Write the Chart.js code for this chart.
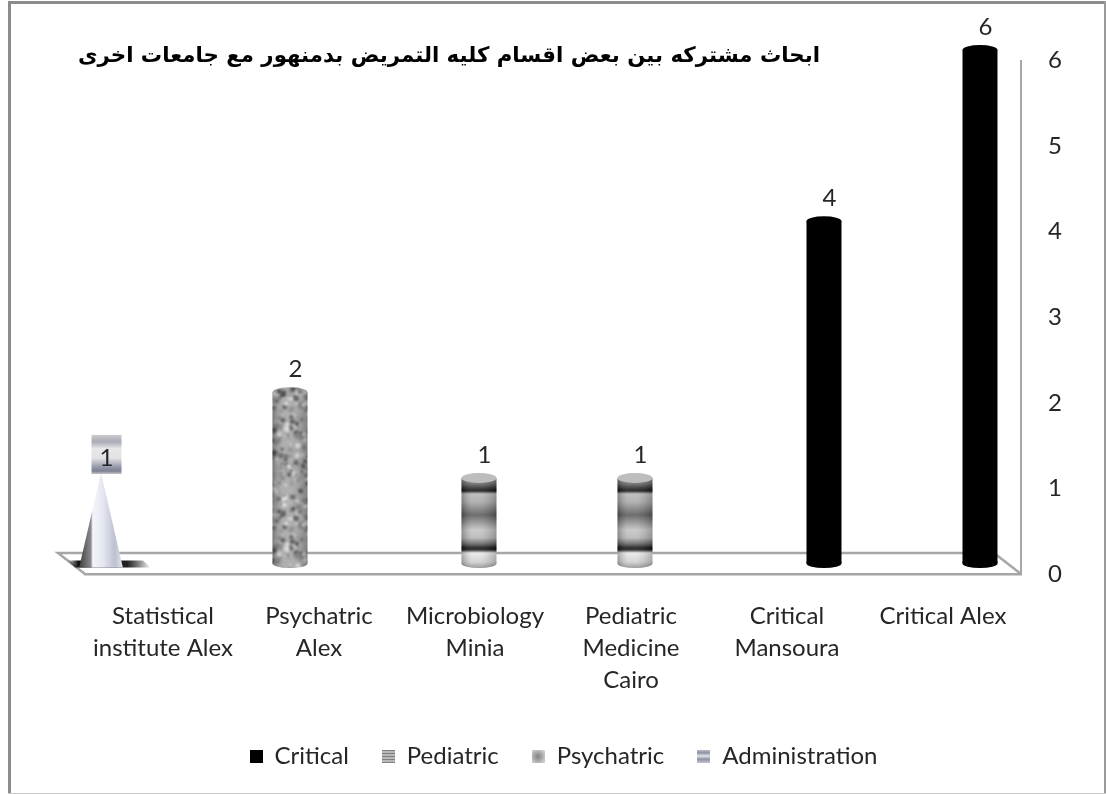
<!DOCTYPE html>
<html lang="en"><head><meta charset="utf-8">
<style>html,body{margin:0;padding:0;background:#fff}#w{width:1106px;height:794px}canvas{display:block}</style>
<script src="https://cdn.jsdelivr.net/npm/chart.js@4/dist/chart.umd.js"></script>
</head><body><div id="w"><canvas id="c" width="1106" height="794"></canvas></div>
<script>
const categories=[["Statistical","institute Alex"],["Psychatric","Alex"],["Microbiology","Minia"],["Pediatric","Medicine","Cairo"],["Critical","Mansoura"],["Critical Alex"]];
const administration=[1,null,null,null,null,null];
const psychatric=[null,2,null,null,null,null];
const pediatric=[null,null,1,1,null,null];
const critical=[null,null,null,null,4,6];
const chartTitle="ابحاث مشتركه بين بعض اقسام كليه التمريض بدمنهور مع جامعات اخرى";
const yTicks=[0,1,2,3,4,5,6];

const FONT='Lato';const DX=-12.5,DY=-10.5,BACKX=-27,BACKY=-21,RY=4.5;

function mk(w,h,f){const c=document.createElement('canvas');c.width=w;c.height=h;f(c.getContext('2d'),w,h);return c;}
// granite texture, deterministic speckle
function granite(){
  let s=12345;const r=()=>{s=(s*1103515245+12345)&0x7fffffff;return s/0x7fffffff;};
  return mk(120,120,(g,w,h)=>{
    g.fillStyle='#a4a4a4';g.fillRect(0,0,w,h);
    g.filter='blur(0.9px)';
    for(let i=0;i<620;i++){const x=r()*w,y=r()*h,t=r();
      g.fillStyle=t<0.3?'#4a4a4a':(t<0.65?'#dcdcdc':'#7c7c7c');
      g.beginPath();g.arc(x,y,0.8+r()*1.9,0,7);g.fill();}
  });
}
const granitePat=granite();

function pedGrad(ctx,top,base){
  const h=base-top,g=ctx.createLinearGradient(0,top,0,base+RY);
  const t=(p)=>Math.min(1,Math.max(0,p));
  const H=h+RY;
  [[0,'#a0a0a0'],[6/H,'#666666'],[11/H,'#202020'],[13/H,'#141414'],[16/H,'#b8b8b8'],[24/H,'#a8a8a8'],[37/H,'#5a5a5a'],[52/H,'#c4c4c4'],[60/H,'#b4b4b4'],[66/H,'#606060'],[70/H,'#111111'],[72/H,'#222222'],[75/H,'#e8e8e8'],[84/H,'#cfcfcf'],[1,'#909090']].forEach(a=>g.addColorStop(t(a[0]),a[1]));
  return g;
}
function pedFill(c){
  const v=c.raw;
  if(v==null)return 'transparent';
  const y=c.chart.scales.y;return pedGrad(c.chart.ctx,y.getPixelForValue(v),y.getPixelForValue(0));
}
function psychFill(c){return c.chart.ctx.createPattern(granitePat,'repeat');}

const swatches={
 Critical:mk(13,13,(g,w,h)=>{g.fillStyle='#000';g.fillRect(0,0,w,h);}),
 Pediatric:mk(13,13,(g,w,h)=>{for(let i=0;i<h;i++){g.fillStyle=i%3==2?'#f0f0f0':'#808080';g.fillRect(0,i,w,1);}}),
 Psychatric:mk(13,13,(g,w,h)=>{const a=g.createRadialGradient(6,7,1,6,7,9);a.addColorStop(0,'#8a8a8a');a.addColorStop(1,'#d8d8d8');g.fillStyle=a;g.fillRect(0,0,w,h);}),
 Administration:mk(13,13,(g,w,h)=>{const a=g.createLinearGradient(0,0,0,h);[[0,'#c4c6cc'],[.25,'#8a8ea0'],[.5,'#e4e4e8'],[.75,'#8a8ea0'],[1,'#c4c6cc']].forEach(b=>a.addColorStop(b[0],b[1]));g.fillStyle=a;g.fillRect(0,0,w,h);})
};

const depthPlugin={
 id:'depth',
 afterLayout(chart){const t=chart.titleBlock;t.left=78;t.right=820;t.top+=9;t.bottom+=9;chart.legend.left=21;},
 beforeDraw(chart){
  const {ctx,chartArea:a}=chart;
  ctx.save();
  ctx.fillStyle='#8c8c8c';ctx.fillRect(8,1,1098,3);ctx.fillRect(8,1,3,792);
  ctx.fillStyle='#9a9a9a';ctx.fillRect(1104,1,2,792);
  ctx.fillStyle='#c8c8c8';ctx.fillRect(8,793,1098,1);
  ctx.strokeStyle='#a6a6a6';ctx.lineWidth=2.5;
  ctx.beginPath();
  ctx.moveTo(a.left,a.bottom);ctx.lineTo(a.left+BACKX,a.bottom+BACKY);ctx.lineTo(a.right+BACKX,a.bottom+BACKY);ctx.lineTo(a.right,a.bottom);
  ctx.stroke();
  ctx.restore();
 },
 beforeDatasetsDraw(chart){chart.ctx.save();chart.ctx.translate(DX,DY);},
 afterDatasetDraw(chart,args){
  const ctx=chart.ctx,meta=args.meta,kind=chart.data.datasets[args.index].kind;
  meta.data.forEach((el,i)=>{
   const v=chart.data.datasets[args.index].data[i];if(v==null)return;
   const x=el.x,top=el.y,base=el.base,w=el.width;
   if(kind==='cone'){
     const bw=w*1.25,l=x-bw/2,r=x+bw/2,by=base+4;
     let s=ctx.createLinearGradient(l-12,0,r+28,0);
     s.addColorStop(0,'rgba(0,0,0,0)');s.addColorStop(.13,'#111');s.addColorStop(.72,'#222');s.addColorStop(1,'rgba(0,0,0,0)');
     ctx.fillStyle=s;ctx.beginPath();ctx.moveTo(l-12,by-7);ctx.lineTo(r+20,by-7);ctx.lineTo(r+28,by);ctx.lineTo(l-4,by);ctx.closePath();ctx.fill();
     const g=ctx.createLinearGradient(l,0,r,0);
     [[0,'#3e3e3e'],[.27,'#8c8c8c'],[.31,'#f4f5fa'],[.55,'#e4e6f0'],[.82,'#bcc0d0'],[1,'#e8e9ee']].forEach(b=>g.addColorStop(b[0],b[1]));
     ctx.fillStyle=g;ctx.beginPath();ctx.moveTo(x,top-5);ctx.lineTo(r,by);ctx.lineTo(l,by);ctx.closePath();ctx.fill();
     return;
   }
   const fill=kind==='ped'?pedGrad(ctx,top,base):(kind==='psych'?ctx.createPattern(granitePat,'repeat'):'#000');
   ctx.fillStyle=fill;
   // bottom of the cylinder, overlapping the bar so no seam shows
   ctx.beginPath();ctx.moveTo(x-w/2,base-2);ctx.lineTo(x+w/2,base-2);ctx.lineTo(x+w/2,base);ctx.ellipse(x,base,w/2,RY,0,0,Math.PI);ctx.closePath();ctx.fill();
   if(kind!=='crit'){
     const sh=ctx.createLinearGradient(x-w/2,0,x+w/2,0);
     sh.addColorStop(0,'rgba(0,0,0,.28)');sh.addColorStop(.3,'rgba(255,255,255,.12)');sh.addColorStop(.55,'rgba(255,255,255,.12)');sh.addColorStop(1,'rgba(0,0,0,.22)');
     ctx.fillStyle=sh;
     ctx.beginPath();ctx.moveTo(x-w/2,top);ctx.lineTo(x+w/2,top);ctx.lineTo(x+w/2,base);ctx.ellipse(x,base,w/2,RY,0,0,Math.PI);ctx.closePath();ctx.fill();
   }
   ctx.fillStyle=kind==='crit'?'#000':(kind==='ped'?'#bdbdbd':ctx.createPattern(granitePat,'repeat'));
   ctx.beginPath();ctx.ellipse(x,top,w/2,RY+.5,0,0,Math.PI*2);ctx.fill();
  });
 },
 afterDatasetsDraw(chart){
  chart.ctx.restore();
  const ctx=chart.ctx;ctx.save();
  chart.data.datasets.forEach((ds,di)=>{
   chart.getDatasetMeta(di).data.forEach((el,i)=>{
    const v=ds.data[i];if(v==null)return;
    const x=el.x+DX+5.5,y=el.y+DY-23;
    if(ds.kind==='cone'){
      const g=ctx.createLinearGradient(0,434,0,473);
      [[0,'#d0d0d0'],[.2,'#a8aab6'],[.38,'#e8e8ea'],[.62,'#e2e2e4'],[.85,'#9498a8'],[.95,'#7c8092'],[1,'#b0b0b8']].forEach(b=>g.addColorStop(b[0],b[1]));
      ctx.fillStyle=g;ctx.fillRect(x-15,y-20,30,39);
    }
    ctx.fillStyle='#262626';ctx.font='24px '+FONT;ctx.textAlign='center';ctx.textBaseline='middle';
    ctx.fillText(String(v),x,ds.kind==='cone'?y+3:y);
   });
  });
  ctx.restore();
 }
};

const ds=(label,data,kind,bg)=>({label,data,kind,backgroundColor:bg,borderWidth:0,barPercentage:1.06,categoryPercentage:0.846});
const swatchOrder=['Critical','Pediatric','Psychatric','Administration'];
new Chart(document.getElementById('c'),{
 type:'bar',
 data:{labels:categories,datasets:[
  ds('Administration',administration,'cone','rgba(0,0,0,0)'),
  ds('Psychatric',psychatric,'psych',psychFill),
  ds('Pediatric',pediatric,'ped',pedFill),
  ds('Critical',critical,'crit','#000')
 ]},
 plugins:[depthPlugin],
 options:{
  responsive:false,animation:false,devicePixelRatio:1,
  layout:{padding:{left:85,right:0,top:0,bottom:16}},
  plugins:{
   tooltip:{enabled:false},
   title:{display:true,text:chartTitle,color:'#000',font:{family:'DejaVu Sans',size:21.3,weight:'bold'},padding:{top:35,bottom:0},align:'center'},
   legend:{position:'bottom',
    labels:{color:'#262626',font:{family:FONT,size:24},usePointStyle:true,boxWidth:13,boxHeight:13,padding:33,
     generateLabels(){return swatchOrder.map((t,i)=>({text:t,pointStyle:swatches[t],fontColor:'#262626',datasetIndex:3-i,lineWidth:0,strokeStyle:'transparent',fillStyle:'transparent'}));}}}
  },
  scales:{
   x:{grid:{display:false,drawTicks:false},border:{display:true,color:'#a6a6a6',width:2.5},
      ticks:{color:'#262626',font:{family:FONT,size:24,lineHeight:1.33},maxRotation:0,minRotation:0,autoSkip:false,padding:26},
      afterFit(s){s.height=137;}},
   y:{position:'right',min:0,max:6,grid:{display:false,drawTicks:false},border:{display:true,color:'#a6a6a6',width:2},
      afterBuildTicks(s){s.ticks=yTicks.map(v=>({value:v}));},
      ticks:{color:'#262626',font:{family:FONT,size:24},padding:27},
      afterFit(s){s.width=85;}}
  }
 }
});
</script></body></html>
